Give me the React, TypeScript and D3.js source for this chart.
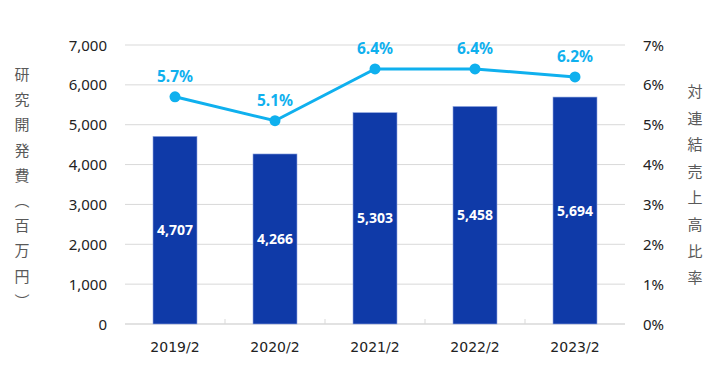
import React from "react";
import * as d3 from "d3";

const categories = ["2019/2", "2020/2", "2021/2", "2022/2", "2023/2"];
const rdCost = [4707, 4266, 5303, 5458, 5694];
const ratio = [5.7, 5.1, 6.4, 6.4, 6.2];
const leftTicks = [0, 1000, 2000, 3000, 4000, 5000, 6000, 7000];
const rightTicks = [0, 1, 2, 3, 4, 5, 6, 7];
const leftTitle = ["研", "究", "開", "発", "費", "︵", "百", "万", "円", "︶"];
const rightTitle = ["対", "連", "結", "売", "上", "高", "比", "率"];

const W = 714, H = 385;
const X0 = 125, X1 = 625, Y0 = 324, Y1 = 45;
const BAR = "#0f3aa8";
const LINE = "#0fb0ee";
const FONT = "'Noto Sans', 'Open Sans', sans-serif";
const CJK = "'Noto Sans CJK JP', sans-serif";

export default function App() {
  const x = d3.scaleBand<string>().domain(categories).range([X0, X1]).paddingInner(0.56).paddingOuter(0.28);
  const xc = d3.scaleBand<string>().domain(categories).range([X0, X1]);
  const yL = d3.scaleLinear().domain([0, 7000]).range([Y0, Y1]);
  const yR = d3.scaleLinear().domain([0, 7]).range([Y0, Y1]);
  const fmt = d3.format(",");
  const linePath = d3
    .line<number>()
    .x((_, i) => xc(categories[i])! + xc.bandwidth() / 2)
    .y((d) => yR(d))(ratio);

  return (
    <svg width={W} height={H} style={{ position: "absolute", left: 0, top: 0 }}>
      <rect width={W} height={H} fill="#fff" />
      {leftTicks.slice(1).map((t) => (
        <line key={t} x1={X0} x2={X1} y1={yL(t)} y2={yL(t)} stroke="#d9d9d9" strokeWidth={1} />
      ))}
      <line x1={X0} x2={X1} y1={Y0} y2={Y0} stroke="#d9d9d9" strokeWidth={1.5} />
      {categories.slice(1).map((c) => (
        <line key={c} x1={xc(c)!} x2={xc(c)!} y1={Y0} y2={Y0 - 5} stroke="#d9d9d9" />
      ))}
      {categories.map((c, i) => (
        <g key={c}>
          <rect
            x={x(c)!}
            y={yL(rdCost[i])}
            width={x.bandwidth()}
            height={Y0 - yL(rdCost[i])}
            fill={BAR}
            stroke="#8fa6e0"
            strokeWidth={0.6}
          />
          <text
            x={x(c)! + x.bandwidth() / 2}
            y={(yL(rdCost[i]) + Y0) / 2 + 5}
            textAnchor="middle"
            fill="#fff"
            fontFamily={FONT}
            fontWeight="bold"
            fontSize={14}
          >
            {fmt(rdCost[i])}
          </text>
          <text
            x={xc(c)! + xc.bandwidth() / 2}
            y={352}
            textAnchor="middle"
            fill="#222"
            fontFamily="'DejaVu Sans', sans-serif"
            fontSize={14}
          >
            {c}
          </text>
        </g>
      ))}
      <path d={linePath!} fill="none" stroke={LINE} strokeWidth={3} />
      {ratio.map((r, i) => {
        const cx = xc(categories[i])! + xc.bandwidth() / 2;
        return (
          <g key={i}>
            <circle cx={cx} cy={yR(r)} r={5.5} fill={LINE} />
            <text x={cx} y={yR(r) - 15} textAnchor="middle" fill={LINE} fontFamily={FONT} fontWeight="bold" fontSize={15.5}>
              {r.toFixed(1) + "%"}
            </text>
          </g>
        );
      })}
      {leftTicks.map((t) => (
        <text key={t} x={107} y={yL(t) + 5.5} textAnchor="end" fill="#222" fontFamily={FONT} fontSize={15}>
          {fmt(t)}
        </text>
      ))}
      {rightTicks.map((t) => (
        <text key={t} x={643} y={yR(t) + 5.5} textAnchor="start" fill="#222" fontFamily={FONT} fontSize={15}>
          {t + "%"}
        </text>
      ))}
      {leftTitle.map((ch, i) => (
        <text key={i} x={22} y={80 + i * 25.2} textAnchor="middle" fill="#595959" fontFamily={CJK} fontSize={15}>
          {ch}
        </text>
      ))}
      {rightTitle.map((ch, i) => (
        <text key={i} x={695} y={97 + i * 26.6} textAnchor="middle" fill="#595959" fontFamily={CJK} fontSize={15}>
          {ch}
        </text>
      ))}
    </svg>
  );
}
